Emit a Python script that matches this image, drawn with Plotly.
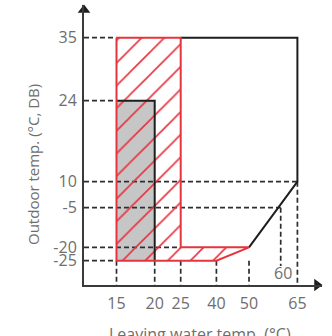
import numpy as np
import plotly.graph_objects as go

# ---- data ----
x_ticks = [15, 20, 25, 40, 50, 60, 65]
x_tick_labels = ["15", "20", "25", "40", "50", "", "65"]
y_ticks = [-25, -20, -5, 10, 24, 35]
y_tick_labels = ["-25", "-20", "-5", "10", "24", "35"]

# heating range outline (black)
heat_x = [25, 65, 65, 50]
heat_y = [35, 35, 10, -20]
# hot water range (red hatched)
dhw_x = [15, 25, 25, 50, 40, 15, 15]
dhw_y = [35, 35, -20, -20, -25, -25, 35]
# cooling range (grey)
cool_x = [15, 15, 20, 20, 15]
cool_y = [-25, 24, 24, -25, -25]
cool_edge_x = [15, 20, 20]
cool_edge_y = [24, 24, -25]

# guide lines: horizontal (outdoor temp -> leaving water end), vertical (water temp -> outdoor temp start)
hguide_y = [35, 24, 10, -5, -20, -25]
hguide_xend = [15, 15, 65, 60, 25, 15]
vguide_x = [15, 20, 25, 40, 50, 65, 60]
vguide_ystart = [-25, -25, -25, -25, -25, 10, -5]

# ---- schematic (non-linear) axis layout ----
X_POS = [32.5, 70.7, 96.7, 132.4, 165.0, 196.7, 213.4]
Y_POS = [24.3, 37.7, 77.3, 103.3, 184.3, 247.3]
X_MAX, Y_MAX = 238, 280

def fx(v):
    return [float(a) for a in np.atleast_1d(np.interp(v, x_ticks, X_POS))]

def fy(v):
    return [float(a) for a in np.atleast_1d(np.interp(v, y_ticks, Y_POS))]

RED = "#e6343f"
BLACK = "#1e1e1e"
DASH = "#2e2e2e"
GREY_FILL = "#c6c6c6"
TXT = "#6e6e6e"
FONT = "Open Sans"

fig = go.Figure()

# grey cooling area
fig.add_trace(go.Scatter(x=fx(cool_x), y=fy(cool_y), mode="lines", fill="toself",
                         fillcolor=GREY_FILL, line=dict(width=0), hoverinfo="skip",
                         cliponaxis=False))

# dashed guides
for yv, xe in zip(hguide_y, hguide_xend):
    fig.add_trace(go.Scatter(x=[0, fx(xe)[0]], y=fy([yv, yv]), mode="lines",
                             line=dict(color=DASH, width=1.7, dash="5px,3px"),
                             hoverinfo="skip", cliponaxis=False))
for xv, ys in zip(vguide_x, vguide_ystart):
    yend = 19 if xv == 60 else 0
    fig.add_trace(go.Scatter(x=fx([xv, xv]), y=[fy(ys)[0], yend], mode="lines",
                             line=dict(color=DASH, width=1.7, dash="5px,3px"),
                             hoverinfo="skip", cliponaxis=False))

# hatched hot water range
fig.add_trace(go.Scatter(x=fx(dhw_x), y=fy(dhw_y), mode="lines", fill="toself",
                         fillcolor="rgba(0,0,0,0)",
                         fillpattern=dict(shape="/", fgcolor=RED, bgcolor="rgba(0,0,0,0)",
                                          fillmode="replace", size=16, solidity=0.1),
                         line=dict(width=0), hoverinfo="skip", cliponaxis=False))

# black outlines
fig.add_trace(go.Scatter(x=fx(cool_edge_x), y=fy(cool_edge_y), mode="lines",
                         line=dict(color=BLACK, width=2), hoverinfo="skip", cliponaxis=False))
fig.add_trace(go.Scatter(x=fx(heat_x), y=fy(heat_y), mode="lines",
                         line=dict(color=BLACK, width=2), hoverinfo="skip", cliponaxis=False))
# red outline
fig.add_trace(go.Scatter(x=fx(dhw_x), y=fy(dhw_y), mode="lines",
                         line=dict(color=RED, width=2), hoverinfo="skip", cliponaxis=False))

# axis arrowheads
fig.add_trace(go.Scatter(x=[0], y=[Y_MAX - 5], mode="markers",
                         marker=dict(symbol="triangle-up", size=11, color=BLACK),
                         hoverinfo="skip", cliponaxis=False))
fig.add_trace(go.Scatter(x=[X_MAX - 5], y=[0], mode="markers",
                         marker=dict(symbol="triangle-right", size=11, color=BLACK),
                         hoverinfo="skip", cliponaxis=False))

fig.add_annotation(x=fx(60)[0] + 2, y=12, text="60", showarrow=False,
                   font=dict(family=FONT, size=16, color=TXT))
fig.add_annotation(xref="x", yref="paper", x=116, y=0, yshift=-36, yanchor="top",
                   text="Leaving water temp. (°C)", showarrow=False,
                   font=dict(family=FONT, size=16, color=TXT))
fig.add_annotation(xref="paper", yref="y", x=0, xshift=-51, xanchor="center",
                   y=120, yanchor="middle",
                   text="Outdoor temp. (°C, DB)", textangle=-90, showarrow=False,
                   font=dict(family=FONT, size=15, color=TXT))

fig.update_layout(
    width=332, height=336,
    margin=dict(l=84, r=10, t=5, b=51),
    paper_bgcolor="white", plot_bgcolor="white",
    showlegend=False,
    xaxis=dict(range=[0, X_MAX], tickvals=X_POS, ticktext=x_tick_labels,
               showgrid=False, zeroline=False, showline=True, linecolor="#3a3a3a",
               linewidth=2, ticks="outside", ticklen=3, tickcolor="rgba(0,0,0,0)",
               tickfont=dict(family=FONT, size=16, color=TXT), fixedrange=True),
    yaxis=dict(range=[0, Y_MAX], tickvals=Y_POS, ticktext=y_tick_labels,
               showgrid=False, zeroline=False, showline=True, linecolor="#3a3a3a",
               linewidth=2, ticks="outside", ticklen=2, tickcolor="rgba(0,0,0,0)",
               tickfont=dict(family=FONT, size=16, color=TXT), fixedrange=True),
)

fig.write_html("out.html")
